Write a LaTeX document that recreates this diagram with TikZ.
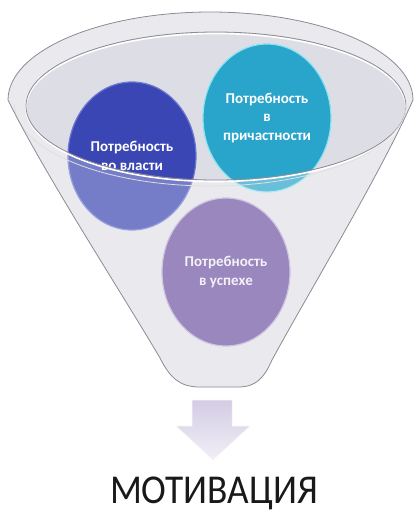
\documentclass[tikz,border=0pt]{standalone}
\usepackage{fontspec}
\setmainfont{Carlito}
\usetikzlibrary{shapes.geometric}
\definecolor{funnelbase}{HTML}{E2E2E7}
\definecolor{mouthfill}{HTML}{DDDDE5}
\definecolor{rimline}{HTML}{8E8A94}
\definecolor{bluec}{HTML}{3A46B3}
\definecolor{bluerim}{HTML}{6C78CF}
\definecolor{tealc}{HTML}{29A4CB}
\definecolor{tealrim}{HTML}{8BE3F0}
\definecolor{purplec}{HTML}{9A87BE}
\definecolor{purplerim}{HTML}{CFC4E2}
\definecolor{arrowtop}{HTML}{D3CCE4}
\definecolor{arrowbot}{HTML}{F2EFF6}
\begin{document}
\begin{tikzpicture}[x=1pt,y=-1pt,
  funnelpath/.style={insert path={(8,100) .. controls (45,175) and (120,290) .. (160,358)
     .. controls (170,378) and (180,387) .. (200,387) -- (238,387)
     .. controls (256,387) and (264,378) .. (272,360)
     .. controls (310,290) and (380,175) .. (413,100)
     arc[start angle=0, end angle=-180, x radius=202.5, y radius=88] -- cycle}},
  need/.style={ellipse, minimum width=128pt, minimum height=148pt, inner sep=0pt,
     align=center, text=white, line width=1.2pt,
     font=\fontsize{15}{18.5}\selectfont\bfseries},
]
\useasboundingbox (0,0) rectangle (418,512);
\fill[white] (0,0) rectangle (418,512);

% funnel body and mouth
\fill[funnelbase, funnelpath];
\fill[mouthfill] (216,106) ellipse[x radius=190, y radius=74];

% need circles
\node[need, fill=bluec, draw=bluerim] (power) at (132,156)
  {Потребность\\во власти};
\node[need, fill=tealc, draw=tealrim] (belong) at (267,118)
  {Потребность\\в\\причастности};

% translucent front of funnel
\begin{scope}
  \clip[funnelpath];
  \fill[white, opacity=0.3, even odd rule, funnelpath] (216,106) ellipse[x radius=190, y radius=74];
\end{scope}

\node[need, fill=purplec, draw=purplerim, text=white!88!purplec] (success) at (226,272)
  {Потребность\\в успехе};

% mouth outline
\draw[white, line width=1.6pt] (216,107.5) ellipse[x radius=190, y radius=74];
\draw[rimline, line width=0.8pt] (216,106) ellipse[x radius=190, y radius=74];
% inner rim line (top half only)
\draw[white!75!gray, line width=0.8pt] (14.5,104) arc[start angle=180, end angle=360, x radius=196, y radius=-82];
% funnel outline
\draw[rimline, line width=0.8pt, funnelpath];

% arrow
\path[top color=arrowtop, bottom color=arrowbot, draw=white!85!arrowtop, line width=0.5pt]
  (192,400) -- (232,400) -- (232,426) -- (250,426) -- (213,460) -- (176,426) -- (192,426) -- cycle;

% result
\node[font=\fontsize{41}{44}\selectfont, text=black!90, inner sep=0pt, anchor=base] (motiv) at (214,503)
  {\scalebox{0.91}[1]{МОТИВАЦИЯ}};
\end{tikzpicture}
\end{document}
